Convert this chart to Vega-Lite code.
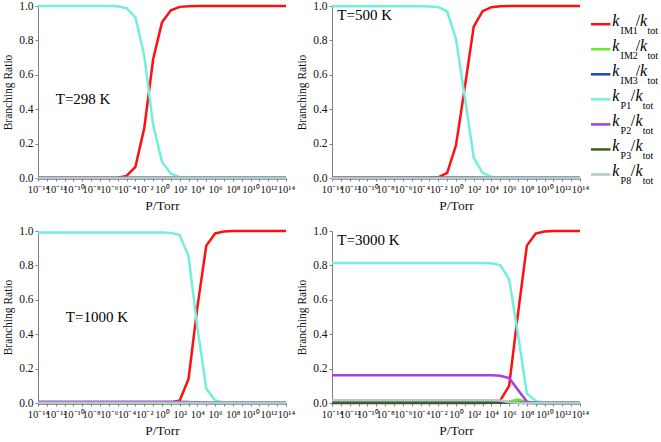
{
  "$schema": "https://vega.github.io/schema/vega-lite/v6.json",
  "description": "Branching ratios vs pressure at four temperatures",
  "background": "white",
  "padding": {"left": 2, "top": 0, "right": 0, "bottom": 0},
  "datasets": {
    "ratios": [
      {"T": "298 K", "P": 1e-14, "IM1": 0, "IM2": 0, "IM3": 0, "P1": 1, "P2": 0, "P3": 0, "P8": 0},
      {"T": "298 K", "P": 1e-6, "IM1": 0, "IM2": 0, "IM3": 0, "P1": 1, "P2": 0, "P3": 0, "P8": 0},
      {"T": "298 K", "P": 1e-5, "IM1": 0.002, "IM2": 0, "IM3": 0, "P1": 0.998, "P2": 0, "P3": 0, "P8": 0},
      {"T": "298 K", "P": 1e-4, "IM1": 0.012, "IM2": 0, "IM3": 0, "P1": 0.987, "P2": 0, "P3": 0, "P8": 0},
      {"T": "298 K", "P": 1e-3, "IM1": 0.065, "IM2": 0, "IM3": 0, "P1": 0.934, "P2": 0, "P3": 0, "P8": 0},
      {"T": "298 K", "P": 1e-2, "IM1": 0.29, "IM2": 0, "IM3": 0, "P1": 0.709, "P2": 0, "P3": 0, "P8": 0},
      {"T": "298 K", "P": 1e-1, "IM1": 0.69, "IM2": 0, "IM3": 0, "P1": 0.309, "P2": 0, "P3": 0, "P8": 0},
      {"T": "298 K", "P": 1, "IM1": 0.905, "IM2": 0, "IM3": 0, "P1": 0.094, "P2": 0, "P3": 0, "P8": 0},
      {"T": "298 K", "P": 10, "IM1": 0.975, "IM2": 0, "IM3": 0, "P1": 0.025, "P2": 0, "P3": 0, "P8": 0},
      {"T": "298 K", "P": 100, "IM1": 0.995, "IM2": 0, "IM3": 0, "P1": 0.005, "P2": 0, "P3": 0, "P8": 0},
      {"T": "298 K", "P": 1e3, "IM1": 0.999, "IM2": 0, "IM3": 0, "P1": 0.001, "P2": 0, "P3": 0, "P8": 0},
      {"T": "298 K", "P": 1e4, "IM1": 1, "IM2": 0, "IM3": 0, "P1": 0, "P2": 0, "P3": 0, "P8": 0},
      {"T": "298 K", "P": 1e14, "IM1": 1, "IM2": 0, "IM3": 0, "P1": 0, "P2": 0, "P3": 0, "P8": 0},

      {"T": "500 K", "P": 1e-14, "IM1": 0, "IM2": 0, "IM3": 0, "P1": 0.998, "P2": 0.002, "P3": 0, "P8": 0},
      {"T": "500 K", "P": 1e-4, "IM1": 0, "IM2": 0, "IM3": 0, "P1": 0.998, "P2": 0.002, "P3": 0, "P8": 0},
      {"T": "500 K", "P": 1e-3, "IM1": 0.001, "IM2": 0, "IM3": 0, "P1": 0.997, "P2": 0.002, "P3": 0, "P8": 0},
      {"T": "500 K", "P": 1e-2, "IM1": 0.004, "IM2": 0, "IM3": 0, "P1": 0.994, "P2": 0.002, "P3": 0, "P8": 0},
      {"T": "500 K", "P": 1e-1, "IM1": 0.03, "IM2": 0, "IM3": 0, "P1": 0.968, "P2": 0.002, "P3": 0, "P8": 0},
      {"T": "500 K", "P": 1, "IM1": 0.19, "IM2": 0, "IM3": 0, "P1": 0.808, "P2": 0.002, "P3": 0, "P8": 0},
      {"T": "500 K", "P": 10, "IM1": 0.53, "IM2": 0, "IM3": 0, "P1": 0.468, "P2": 0.002, "P3": 0, "P8": 0},
      {"T": "500 K", "P": 100, "IM1": 0.88, "IM2": 0, "IM3": 0, "P1": 0.119, "P2": 0.001, "P3": 0, "P8": 0},
      {"T": "500 K", "P": 1e3, "IM1": 0.97, "IM2": 0, "IM3": 0, "P1": 0.03, "P2": 0, "P3": 0, "P8": 0},
      {"T": "500 K", "P": 1e4, "IM1": 0.993, "IM2": 0, "IM3": 0, "P1": 0.007, "P2": 0, "P3": 0, "P8": 0},
      {"T": "500 K", "P": 1e5, "IM1": 0.999, "IM2": 0, "IM3": 0, "P1": 0.001, "P2": 0, "P3": 0, "P8": 0},
      {"T": "500 K", "P": 1e6, "IM1": 1, "IM2": 0, "IM3": 0, "P1": 0, "P2": 0, "P3": 0, "P8": 0},
      {"T": "500 K", "P": 1e14, "IM1": 1, "IM2": 0, "IM3": 0, "P1": 0, "P2": 0, "P3": 0, "P8": 0},

      {"T": "1000 K", "P": 1e-14, "IM1": 0, "IM2": 0, "IM3": 0, "P1": 0.992, "P2": 0.007, "P3": 0, "P8": 0.001},
      {"T": "1000 K", "P": 1, "IM1": 0, "IM2": 0, "IM3": 0, "P1": 0.992, "P2": 0.007, "P3": 0, "P8": 0.001},
      {"T": "1000 K", "P": 10, "IM1": 0.003, "IM2": 0, "IM3": 0, "P1": 0.989, "P2": 0.007, "P3": 0, "P8": 0.001},
      {"T": "1000 K", "P": 100, "IM1": 0.015, "IM2": 0, "IM3": 0, "P1": 0.977, "P2": 0.007, "P3": 0, "P8": 0.001},
      {"T": "1000 K", "P": 1e3, "IM1": 0.14, "IM2": 0, "IM3": 0, "P1": 0.853, "P2": 0.006, "P3": 0, "P8": 0.001},
      {"T": "1000 K", "P": 1e4, "IM1": 0.56, "IM2": 0, "IM3": 0, "P1": 0.437, "P2": 0.003, "P3": 0, "P8": 0},
      {"T": "1000 K", "P": 1e5, "IM1": 0.915, "IM2": 0, "IM3": 0, "P1": 0.084, "P2": 0.001, "P3": 0, "P8": 0},
      {"T": "1000 K", "P": 1e6, "IM1": 0.986, "IM2": 0, "IM3": 0, "P1": 0.014, "P2": 0, "P3": 0, "P8": 0},
      {"T": "1000 K", "P": 1e7, "IM1": 0.997, "IM2": 0, "IM3": 0, "P1": 0.003, "P2": 0, "P3": 0, "P8": 0},
      {"T": "1000 K", "P": 1e8, "IM1": 1, "IM2": 0, "IM3": 0, "P1": 0, "P2": 0, "P3": 0, "P8": 0},
      {"T": "1000 K", "P": 1e14, "IM1": 1, "IM2": 0, "IM3": 0, "P1": 0, "P2": 0, "P3": 0, "P8": 0},

      {"T": "3000 K", "P": 1e-14, "IM1": 0, "IM2": 0, "IM3": 0.001, "P1": 0.814, "P2": 0.162, "P3": 0.004, "P8": 0.016},
      {"T": "3000 K", "P": 1e3, "IM1": 0, "IM2": 0, "IM3": 0.001, "P1": 0.814, "P2": 0.162, "P3": 0.004, "P8": 0.016},
      {"T": "3000 K", "P": 1e4, "IM1": 0.003, "IM2": 0, "IM3": 0.001, "P1": 0.812, "P2": 0.161, "P3": 0.004, "P8": 0.016},
      {"T": "3000 K", "P": 1e5, "IM1": 0.015, "IM2": 0.003, "IM3": 0.001, "P1": 0.802, "P2": 0.158, "P3": 0.004, "P8": 0.014},
      {"T": "3000 K", "P": 1e6, "IM1": 0.1, "IM2": 0.009, "IM3": 0.001, "P1": 0.72, "P2": 0.145, "P3": 0.003, "P8": 0.005},
      {"T": "3000 K", "P": 1e7, "IM1": 0.52, "IM2": 0.02, "IM3": 0.001, "P1": 0.4, "P2": 0.075, "P3": 0.002, "P8": 0.001},
      {"T": "3000 K", "P": 1e8, "IM1": 0.915, "IM2": 0.004, "IM3": 0, "P1": 0.055, "P2": 0.008, "P3": 0.001, "P8": 0},
      {"T": "3000 K", "P": 1e9, "IM1": 0.985, "IM2": 0, "IM3": 0, "P1": 0.012, "P2": 0.002, "P3": 0, "P8": 0},
      {"T": "3000 K", "P": 1e10, "IM1": 0.997, "IM2": 0, "IM3": 0, "P1": 0.002, "P2": 0, "P3": 0, "P8": 0},
      {"T": "3000 K", "P": 1e11, "IM1": 1, "IM2": 0, "IM3": 0, "P1": 0, "P2": 0, "P3": 0, "P8": 0},
      {"T": "3000 K", "P": 1e14, "IM1": 1, "IM2": 0, "IM3": 0, "P1": 0, "P2": 0, "P3": 0, "P8": 0}
    ],
    "temps": [
      {"T": "298 K", "label": "T=298 K", "P": 1e-12, "r": 0.46},
      {"T": "500 K", "label": "T=500 K", "P": 4e-14, "r": 0.95},
      {"T": "1000 K", "label": "T=1000 K", "P": 1.4e-11, "r": 0.5},
      {"T": "3000 K", "label": "T=3000 K", "P": 4e-14, "r": 0.95}
    ],
    "keys": [
      {"series": "IM1"}, {"series": "IM2"}, {"series": "IM3"},
      {"series": "P1"}, {"series": "P2"}, {"series": "P3"}, {"series": "P8"}
    ]
  },
  "config": {
    "view": {"stroke": null},
    "font": "Liberation Serif",
    "axis": {
      "grid": false,
      "domainColor": "#808080",
      "tickColor": "#808080",
      "tickSize": 3,
      "labelColor": "#111111",
      "labelFont": "Liberation Serif",
      "labelOverlap": false,
      "labelBound": false,
      "labelFlush": false,
      "titleFont": "Liberation Serif",
      "titleFontWeight": "normal",
      "titleColor": "#111111"
    },
    "axisX": {
      "labelFontSize": 10.5,
      "labelPadding": 3,
      "titleFontSize": 13.5,
      "titlePadding": 4
    },
    "axisY": {
      "labelFontSize": 11.5,
      "labelPadding": 2,
      "titleFontSize": 11.5,
      "titlePadding": 5
    },
    "text": {"font": "Liberation Serif", "color": "#000000"}
  },
  "spacing": 0,
  "hconcat": [
    {
      "columns": 2,
      "bounds": "flush",
      "spacing": {"row": 53, "column": 46},
      "concat": [
        {
          "width": 248, "height": 172,
          "layer": [
            {
              "data": {"name": "ratios"},
              "transform": [
                {"filter": "datum.T == '298 K'"},
                {"fold": ["IM1", "IM2", "IM3", "P1", "P2", "P3", "P8"], "as": ["series", "ratio"]}
              ],
              "mark": {"type": "line", "strokeWidth": 2.5},
              "encoding": {
                "x": {"field": "P", "type": "quantitative", "scale": {"type": "log", "domain": [1e-14, 1e14]},
                  "axis": {"title": "P/Torr", "tickCount": 40, "values": [1e-14, 1e-13, 1e-12, 1e-11, 1e-10, 1e-9, 1e-8, 1e-7, 1e-6, 1e-5, 1e-4, 1e-3, 1e-2, 1e-1, 1, 10, 100, 1e3, 1e4, 1e5, 1e6, 1e7, 1e8, 1e9, 1e10, 1e11, 1e12, 1e13, 1e14],
                    "labelExpr": "['10⁻¹⁴','','10⁻¹²','','10⁻¹⁰','','10⁻⁸','','10⁻⁶','','10⁻⁴','','10⁻²','','10⁰','','10²','','10⁴','','10⁶','','10⁸','','10¹⁰','','10¹²','','10¹⁴'][round(log(datum.value)/LN10)+14]"}},
                "y": {"field": "ratio", "type": "quantitative", "scale": {"domain": [0, 1]},
                  "axis": {"title": "Branching Ratio", "tickCount": 10, "values": [0, 0.2, 0.4, 0.6, 0.8, 1], "format": ".1f"}},
                "color": {"field": "series", "type": "nominal", "legend": null,
                  "scale": {"domain": ["IM1", "IM2", "IM3", "P1", "P2", "P3", "P8"], "range": ["#ff1010", "#66ee22", "#2040c8", "#72f0dc", "#a63ee0", "#40601a", "#b4c8cc"]}}
              }
            },
            {
              "data": {"name": "temps"},
              "transform": [{"filter": "datum.T == '298 K'"}],
              "mark": {"type": "text", "align": "left", "baseline": "middle", "fontSize": 15},
              "encoding": {
                "x": {"field": "P", "type": "quantitative"},
                "y": {"field": "r", "type": "quantitative"},
                "text": {"field": "label"}
              }
            }
          ]
        },
        {
          "width": 248, "height": 172,
          "layer": [
            {
              "data": {"name": "ratios"},
              "transform": [
                {"filter": "datum.T == '500 K'"},
                {"fold": ["IM1", "IM2", "IM3", "P1", "P2", "P3", "P8"], "as": ["series", "ratio"]}
              ],
              "mark": {"type": "line", "strokeWidth": 2.5},
              "encoding": {
                "x": {"field": "P", "type": "quantitative", "scale": {"type": "log", "domain": [1e-14, 1e14]},
                  "axis": {"title": "P/Torr", "tickCount": 40, "values": [1e-14, 1e-13, 1e-12, 1e-11, 1e-10, 1e-9, 1e-8, 1e-7, 1e-6, 1e-5, 1e-4, 1e-3, 1e-2, 1e-1, 1, 10, 100, 1e3, 1e4, 1e5, 1e6, 1e7, 1e8, 1e9, 1e10, 1e11, 1e12, 1e13, 1e14],
                    "labelExpr": "['10⁻¹⁴','','10⁻¹²','','10⁻¹⁰','','10⁻⁸','','10⁻⁶','','10⁻⁴','','10⁻²','','10⁰','','10²','','10⁴','','10⁶','','10⁸','','10¹⁰','','10¹²','','10¹⁴'][round(log(datum.value)/LN10)+14]"}},
                "y": {"field": "ratio", "type": "quantitative", "scale": {"domain": [0, 1]},
                  "axis": {"title": "Branching Ratio", "tickCount": 10, "values": [0, 0.2, 0.4, 0.6, 0.8, 1], "format": ".1f"}},
                "color": {"field": "series", "type": "nominal", "legend": null,
                  "scale": {"domain": ["IM1", "IM2", "IM3", "P1", "P2", "P3", "P8"], "range": ["#ff1010", "#66ee22", "#2040c8", "#72f0dc", "#a63ee0", "#40601a", "#b4c8cc"]}}
              }
            },
            {
              "data": {"name": "temps"},
              "transform": [{"filter": "datum.T == '500 K'"}],
              "mark": {"type": "text", "align": "left", "baseline": "middle", "fontSize": 15},
              "encoding": {
                "x": {"field": "P", "type": "quantitative"},
                "y": {"field": "r", "type": "quantitative"},
                "text": {"field": "label"}
              }
            }
          ]
        },
        {
          "width": 248, "height": 172,
          "layer": [
            {
              "data": {"name": "ratios"},
              "transform": [
                {"filter": "datum.T == '1000 K'"},
                {"fold": ["IM1", "IM2", "IM3", "P1", "P2", "P3", "P8"], "as": ["series", "ratio"]}
              ],
              "mark": {"type": "line", "strokeWidth": 2.5},
              "encoding": {
                "x": {"field": "P", "type": "quantitative", "scale": {"type": "log", "domain": [1e-14, 1e14]},
                  "axis": {"title": "P/Torr", "tickCount": 40, "values": [1e-14, 1e-13, 1e-12, 1e-11, 1e-10, 1e-9, 1e-8, 1e-7, 1e-6, 1e-5, 1e-4, 1e-3, 1e-2, 1e-1, 1, 10, 100, 1e3, 1e4, 1e5, 1e6, 1e7, 1e8, 1e9, 1e10, 1e11, 1e12, 1e13, 1e14],
                    "labelExpr": "['10⁻¹⁴','','10⁻¹²','','10⁻¹⁰','','10⁻⁸','','10⁻⁶','','10⁻⁴','','10⁻²','','10⁰','','10²','','10⁴','','10⁶','','10⁸','','10¹⁰','','10¹²','','10¹⁴'][round(log(datum.value)/LN10)+14]"}},
                "y": {"field": "ratio", "type": "quantitative", "scale": {"domain": [0, 1]},
                  "axis": {"title": "Branching Ratio", "tickCount": 10, "values": [0, 0.2, 0.4, 0.6, 0.8, 1], "format": ".1f"}},
                "color": {"field": "series", "type": "nominal", "legend": null,
                  "scale": {"domain": ["IM1", "IM2", "IM3", "P1", "P2", "P3", "P8"], "range": ["#ff1010", "#66ee22", "#2040c8", "#72f0dc", "#a63ee0", "#40601a", "#b4c8cc"]}}
              }
            },
            {
              "data": {"name": "temps"},
              "transform": [{"filter": "datum.T == '1000 K'"}],
              "mark": {"type": "text", "align": "left", "baseline": "middle", "fontSize": 15},
              "encoding": {
                "x": {"field": "P", "type": "quantitative"},
                "y": {"field": "r", "type": "quantitative"},
                "text": {"field": "label"}
              }
            }
          ]
        },
        {
          "width": 248, "height": 172,
          "layer": [
            {
              "data": {"name": "ratios"},
              "transform": [
                {"filter": "datum.T == '3000 K'"},
                {"fold": ["IM1", "IM2", "IM3", "P1", "P2", "P3", "P8"], "as": ["series", "ratio"]}
              ],
              "mark": {"type": "line", "strokeWidth": 2.5},
              "encoding": {
                "x": {"field": "P", "type": "quantitative", "scale": {"type": "log", "domain": [1e-14, 1e14]},
                  "axis": {"title": "P/Torr", "tickCount": 40, "values": [1e-14, 1e-13, 1e-12, 1e-11, 1e-10, 1e-9, 1e-8, 1e-7, 1e-6, 1e-5, 1e-4, 1e-3, 1e-2, 1e-1, 1, 10, 100, 1e3, 1e4, 1e5, 1e6, 1e7, 1e8, 1e9, 1e10, 1e11, 1e12, 1e13, 1e14],
                    "labelExpr": "['10⁻¹⁴','','10⁻¹²','','10⁻¹⁰','','10⁻⁸','','10⁻⁶','','10⁻⁴','','10⁻²','','10⁰','','10²','','10⁴','','10⁶','','10⁸','','10¹⁰','','10¹²','','10¹⁴'][round(log(datum.value)/LN10)+14]"}},
                "y": {"field": "ratio", "type": "quantitative", "scale": {"domain": [0, 1]},
                  "axis": {"title": "Branching Ratio", "tickCount": 10, "values": [0, 0.2, 0.4, 0.6, 0.8, 1], "format": ".1f"}},
                "color": {"field": "series", "type": "nominal", "legend": null,
                  "scale": {"domain": ["IM1", "IM2", "IM3", "P1", "P2", "P3", "P8"], "range": ["#ff1010", "#66ee22", "#2040c8", "#72f0dc", "#a63ee0", "#40601a", "#b4c8cc"]}}
              }
            },
            {
              "data": {"name": "temps"},
              "transform": [{"filter": "datum.T == '3000 K'"}],
              "mark": {"type": "text", "align": "left", "baseline": "middle", "fontSize": 15},
              "encoding": {
                "x": {"field": "P", "type": "quantitative"},
                "y": {"field": "r", "type": "quantitative"},
                "text": {"field": "label"}
              }
            }
          ]
        }
      ]
    },
    {
      "width": 74, "height": 181,
      "data": {"name": "keys"},
      "encoding": {
        "y": {"field": "series", "type": "nominal", "axis": null,
          "scale": {"type": "point", "domain": ["IM1", "IM2", "IM3", "P1", "P2", "P3", "P8"], "range": [5.7, 181]}}
      },
      "layer": [
        {
          "mark": {"type": "rule", "strokeWidth": 2.5},
          "encoding": {
            "x": {"datum": 0, "type": "quantitative", "scale": {"domain": [0, 74]}, "axis": null},
            "x2": {"datum": 21},
            "color": {"field": "series", "type": "nominal", "legend": null,
              "scale": {"domain": ["IM1", "IM2", "IM3", "P1", "P2", "P3", "P8"], "range": ["#ff1010", "#66ee22", "#2040c8", "#72f0dc", "#a63ee0", "#40601a", "#b4c8cc"]}}
          }
        },
        {
          "mark": {"type": "text", "align": "left", "baseline": "alphabetic", "fontSize": 16, "fontStyle": "italic", "dy": 1.5},
          "encoding": {"x": {"datum": 23}, "text": {"value": "k"}}
        },
        {
          "mark": {"type": "text", "align": "left", "baseline": "alphabetic", "fontSize": 10, "dy": 10},
          "encoding": {"x": {"datum": 32}, "text": {"field": "series"}}
        },
        {
          "transform": [{"filter": "indexof(datum.series, 'IM') == 0"}],
          "mark": {"type": "text", "align": "left", "baseline": "alphabetic", "fontSize": 16, "dy": 1.5},
          "encoding": {"x": {"datum": 48.5}, "text": {"value": "/"}}
        },
        {
          "transform": [{"filter": "indexof(datum.series, 'IM') != 0"}],
          "mark": {"type": "text", "align": "left", "baseline": "alphabetic", "fontSize": 16, "dy": 1.5},
          "encoding": {"x": {"datum": 43}, "text": {"value": "/"}}
        },
        {
          "transform": [{"filter": "indexof(datum.series, 'IM') == 0"}],
          "mark": {"type": "text", "align": "left", "baseline": "alphabetic", "fontSize": 16, "fontStyle": "italic", "dy": 1.5},
          "encoding": {"x": {"datum": 53}, "text": {"value": "k"}}
        },
        {
          "transform": [{"filter": "indexof(datum.series, 'IM') != 0"}],
          "mark": {"type": "text", "align": "left", "baseline": "alphabetic", "fontSize": 16, "fontStyle": "italic", "dy": 1.5},
          "encoding": {"x": {"datum": 48}, "text": {"value": "k"}}
        },
        {
          "transform": [{"filter": "indexof(datum.series, 'IM') == 0"}],
          "mark": {"type": "text", "align": "left", "baseline": "alphabetic", "fontSize": 10, "dy": 10},
          "encoding": {"x": {"datum": 61}, "text": {"value": "tot"}}
        },
        {
          "transform": [{"filter": "indexof(datum.series, 'IM') != 0"}],
          "mark": {"type": "text", "align": "left", "baseline": "alphabetic", "fontSize": 10, "dy": 10},
          "encoding": {"x": {"datum": 56}, "text": {"value": "tot"}}
        }
      ]
    }
  ]
}
